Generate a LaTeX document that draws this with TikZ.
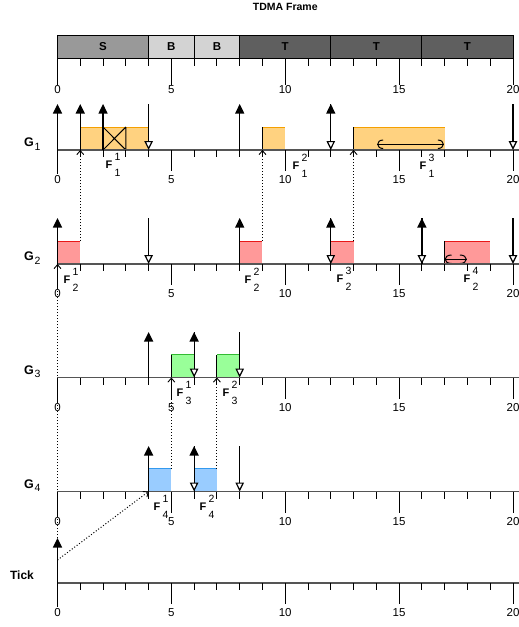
\documentclass[tikz,border=0pt]{standalone}
\usepackage{fontspec}
\setmainfont{Liberation Sans}
\usetikzlibrary{arrows.meta}
\definecolor{segS}{HTML}{999999}
\definecolor{segB}{HTML}{D3D3D3}
\definecolor{segT}{HTML}{5F5F5F}
\definecolor{orfill}{HTML}{FFD280}
\definecolor{orline}{HTML}{F5A000}
\definecolor{rdfill}{HTML}{FF9999}
\definecolor{rdline}{HTML}{E81818}
\definecolor{grfill}{HTML}{99FF99}
\definecolor{grline}{HTML}{33BB33}
\definecolor{blfill}{HTML}{99CCFF}
\definecolor{blline}{HTML}{3399EE}
\definecolor{axisgray}{HTML}{555555}
\newcommand\rowaxis[2]{%
  \draw[axisline] (0,#1) -- (20.4,#1);
  \foreach \t in {1,2,3,4,6,7,8,9,11,12,13,14,16,17,18,19} \draw[tickmark] (\t,#1) -- (\t,#1+7);
  \foreach \t in {5,10,15,20} \draw[tickmark] (\t,#1) -- (\t,#1+21);
  \draw[tickmark] (0,#1) -- (0,#1+24);
  \foreach \t in {0,5,10,15,20} \node[num] (#2n\t) at (\t,#1+30) {\t};
}
\newcommand\flab[5]{%
  \node[flet] (#1) at ({(#2-57.5)/22.775},#3) {F};
  \node[fidx] (#1u) at ({(#2+8.5-57.5)/22.775},#3-8.5) {#4};
  \node[fidx] (#1d) at ({(#2+8.5-57.5)/22.775},#3+8) {#5};
}
\newcommand\glab[3]{%
  \node[gl] (#1) at (-1.25,#2-7.5) {G};
  \node[gsub] (#1s) at (-0.88,#2-3.5) {#3};
}
\newcommand\jobbox[5]{%
  \fill[#4] (#1,#3) rectangle (#2,#3-23);
  \draw[#5,line width=1pt] (#1,#3-23) -- (#2,#3-23);
  \draw[line width=1pt] (#1,#3) -- (#1,#3-23);
}
\newcommand\capsule[5]{%
  \draw[line width=1pt] (#1+#5,#3) .. controls (#1-0.07,#3) and (#1-0.07,#4) .. (#1+#5,#4);
  \draw[line width=1pt] (#2-#5,#3) .. controls (#2+0.07,#3) and (#2+0.07,#4) .. (#2-#5,#4);
  \draw[line width=1pt] (#1,{(#3+#4)/2}) -- (#2,{(#3+#4)/2});
}
\begin{document}
\begin{tikzpicture}[x=22.775pt,y=-1pt,
  num/.style={inner sep=0pt,font=\fontsize{11.5}{13}\selectfont},
  flet/.style={inner sep=0pt,font=\fontsize{11}{12}\selectfont\bfseries},
  fidx/.style={inner sep=0pt,font=\fontsize{10.5}{12}\selectfont},
  gl/.style={inner sep=0pt,font=\fontsize{12.5}{13}\selectfont\bfseries},
  gsub/.style={inner sep=0pt,font=\fontsize{10.5}{12}\selectfont},
  seglab/.style={inner sep=0pt,font=\fontsize{11.5}{13}\selectfont\bfseries},
  axisline/.style={line width=1.3pt,draw=axisgray},
  tickmark/.style={line width=1pt},
  arrival/.style={line width=1.2pt,-{Triangle[width=9pt,length=9.5pt]}},
  deadline/.style={line width=1.2pt,-{Triangle[open,width=8.5pt,length=9pt,fill=white]}},
  prec/.style={dotted,line width=1pt,-{Straight Barb[length=4pt,width=7pt,line width=0.9pt]}}]
\useasboundingbox (-2.5247,0) rectangle (20.2634,627);
% title and frame
\node[inner sep=0pt,font=\fontsize{10.5}{12}\selectfont\bfseries] (title) at (10,7) {TDMA Frame};
\foreach \a/\b/\c/\l in {0/4/segS/S,4/6/segB/B,6/8/segB/B,8/12/segT/T,12/16/segT/T,16/20/segT/T}{
  \draw[line width=1pt,fill=\c] (\a,35) rectangle (\b,58);
  \node[seglab] (seg\a) at ({(\a+\b)/2},46.5) {\l};
}
\foreach \t in {1,2,3,4,6,7,8,9,11,12,13,14,16,17,18,19} \draw[tickmark] (\t,58) -- (\t,66);
\foreach \t in {0,5,10,15,20}{
  \draw[tickmark] (\t,58) -- (\t,85);
  \node[num] (fn\t) at (\t,90) {\t};
}
% ---------- G1 (axis 150)
\jobbox{1}{4}{150}{orfill}{orline}
\jobbox{9}{10}{150}{orfill}{orline}
\jobbox{13}{17}{150}{orfill}{orline}
\draw[line width=1pt] (3,150) -- (3,127) (2,127) -- (3,150) (2,150) -- (3,127);
\capsule{14.05}{16.95}{140}{148.5}{0.25}
\rowaxis{150}{ga}
\foreach \t in {0,1,2,8,12} \draw[arrival] (\t,150) -- (\t,104);
\foreach \t in {4,12,20} \draw[deadline] (\t,104) -- (\t,150);
\glab{g1}{150}{1}
\flab{f11}{109}{165}{1}{1}
\flab{f12}{296}{166}{2}{1}
\flab{f13}{423}{166}{3}{1}
% ---------- G2 (axis 264)
\jobbox{0}{1}{264}{rdfill}{rdline}
\jobbox{8}{9}{264}{rdfill}{rdline}
\jobbox{12}{13}{264}{rdfill}{rdline}
\jobbox{17}{19}{264}{rdfill}{rdline}
\capsule{17.0}{17.97}{255}{263.5}{0.3}
\rowaxis{264}{gb}
\foreach \t in {0,8,12,16} \draw[arrival] (\t,264) -- (\t,218);
\foreach \t in {4,12,16,20} \draw[deadline] (\t,218) -- (\t,264);
\glab{g2}{264}{2}
\flab{f21}{67}{280}{1}{2}
\flab{f22}{248}{280}{2}{2}
\flab{f23}{340}{279}{3}{2}
\flab{f24}{467}{279}{4}{2}
% ---------- G3 (axis 377.5)
\jobbox{5}{6}{377.5}{grfill}{grline}
\jobbox{7}{8}{377.5}{grfill}{grline}
\rowaxis{377.5}{gc}
\foreach \t in {4,6} \draw[arrival] (\t,377.5) -- (\t,332);
\foreach \t in {6,8} \draw[deadline] (\t,332) -- (\t,377.5);
\glab{g3}{377.5}{3}
\flab{f31}{180}{393}{1}{3}
\flab{f32}{226}{393}{2}{3}
% ---------- G4 (axis 491.5)
\jobbox{4}{5}{491.5}{blfill}{blline}
\jobbox{6}{7}{491.5}{blfill}{blline}
\rowaxis{491.5}{gd}
\foreach \t in {4,6} \draw[arrival] (\t,491.5) -- (\t,446);
\foreach \t in {6,8} \draw[deadline] (\t,446) -- (\t,491.5);
\glab{g4}{491.5}{4}
\flab{f41}{157}{507}{1}{4}
\flab{f42}{203}{507}{2}{4}
% ---------- Tick (axis 583)
\rowaxis{583}{tk}
\draw[arrival] (0,583) -- (0,538);
\node[inner sep=0pt,font=\fontsize{12}{13}\selectfont\bfseries] (ticklab) at (-1.56,575.5) {Tick};
% ---------- precedence connectors
\coordinate (b21) at (1,241);   \coordinate (a11) at (1,150);
\coordinate (b29) at (9,241);   \coordinate (a19) at (9,150);
\coordinate (b213) at (13,241); \coordinate (a113) at (13,150);
\coordinate (b45) at (5,468.5); \coordinate (a35) at (5,377.5);
\coordinate (b47) at (7,468.5); \coordinate (a37) at (7,377.5);
\coordinate (tktop) at (0,538); \coordinate (a20) at (0,264);
\coordinate (tkmid) at (0,560); \coordinate (a44) at (4,491.5);
\draw[prec] (b21) -- (a11);
\draw[prec] (b29) -- (a19);
\draw[prec] (b213) -- (a113);
\draw[prec] (b45) -- (a35);
\draw[prec] (b47) -- (a37);
\draw[prec] (tktop) -- (a20);
\draw[prec] (tkmid) -- (a44);
\end{tikzpicture}
\end{document}
